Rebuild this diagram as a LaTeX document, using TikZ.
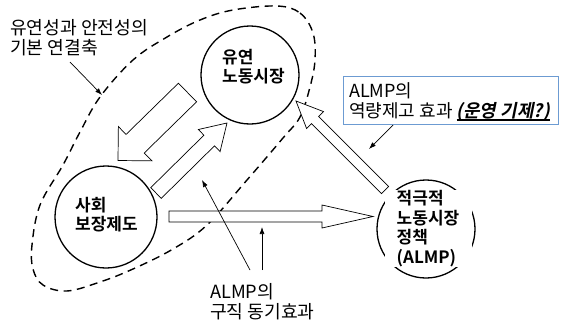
\documentclass[tikz,border=0pt]{standalone}
\usepackage{fontspec}
\setmainfont{Noto Sans CJK KR}[
  BoldFont={Noto Sans CJK KR Bold},
  ItalicFont={Noto Sans CJK KR},
  ItalicFeatures={FakeSlant=0.2},
  BoldItalicFont={Noto Sans CJK KR Bold},
  BoldItalicFeatures={FakeSlant=0.2}]
\usetikzlibrary{calc,arrows.meta}
\definecolor{boxblue}{HTML}{6C9BD2}
\newcommand\myul[1]{\setbox0=\hbox{#1}\copy0\kern-\wd0\rule[-3.5pt]{\wd0}{1.3pt}}
\newcommand\blockarrow[5]{%
  \coordinate (bh) at ($(#2)!#5!(#1)$);
  \draw[blockarr] ($(#1)!#3!90:(#2)$) -- ($(bh)!#3!90:(#2)$) -- ($(bh)!#4!90:(#2)$) -- (#2)
    -- ($(bh)!#4!-90:(#2)$) -- ($(bh)!#3!-90:(#2)$) -- ($(#1)!#3!-90:(#2)$) -- cycle;
}
\begin{document}
\begin{tikzpicture}[x=1pt,y=-1pt,
  circnode/.style={circle, draw, line width=1.3pt, minimum size=#1, inner sep=0pt},
  ctext/.style={font=\bfseries\fontsize{17}{19.5}\selectfont, align=left, inner sep=0pt},
  ntext/.style={font=\fontsize{18.2}{20}\selectfont, align=left, inner sep=0pt},
  blockarr/.style={draw, line width=0.7pt, fill=white, line join=miter},
  pointer/.style={line width=0.7pt, -{Latex[length=7pt,width=5pt]}},
  ell/.style={dash pattern=on 8pt off 5.5pt, line width=1.4pt}]
\useasboundingbox (0,0) rectangle (562,324);

% dashed enclosing curve
\draw[ell] plot[smooth cycle, tension=0.6] coordinates {(277,6) (300,13) (313,33) (315,60) (310,87) (300,117) (283,138) (247,180) (207,225) (173,249) (133,269) (100,282) (67,291) (43,285) (33,269) (32,245) (40,205) (63,165) (80,132) (100,97) (133,60) (167,37) (200,20) (233,10)};

% circles
\node[circnode=98pt] (flex) at (250,75) {};
\node[circnode=102pt] (soc) at (106,217) {};
\node[circnode=98pt] (almp) at (426,229) {};

\node[ctext, anchor=north west] (flextxt) at (222,49) {유연\\노동시장};
\node[ctext, anchor=north west] (soctxt) at (75,197) {사회\\보장제도};
\node[ctext, fill=white, minimum width=87pt, minimum height=75pt] (almptxt) at (428,228.5) {적극적\\노동시장\\정책\\(ALMP)};

% block arrows
\coordinate (a1t) at (187.5,92.5);
\coordinate (a1h) at (118,160.5);
\blockarrow{a1t}{a1h}{13pt}{24pt}{24pt}
\coordinate (a2t) at (156,193);
\coordinate (a2h) at (227,123);
\blockarrow{a2t}{a2h}{7.5pt}{15.5pt}{25pt}
\coordinate (a3t) at (169,216.5);
\coordinate (a3h) at (373,216.5);
\blockarrow{a3t}{a3h}{5.5pt}{11.5pt}{51pt}
\coordinate (a4t) at (385,190);
\coordinate (a4h) at (296,101);
\blockarrow{a4t}{a4h}{5pt}{12pt}{27pt}

% labels
\node[ntext, anchor=north west] (axis) at (10,19) {유연성과 안전성의\\기본 연결축};
\node[draw=boxblue, line width=0.9pt, anchor=north west, minimum width=215pt,
      minimum height=48pt, inner sep=0pt] (box) at (343,76) {};
\node[ntext, font=\fontsize{18}{20}\selectfont, anchor=west] (boxtxt) at ($(box.west)+(6,1)$)
  {ALMP의\\역량제고 효과 \myul{\textbf{\textit{(운영 기제?)}}}};
\node[ntext, anchor=north west] (motiv) at (210,283) {ALMP의\\구직 동기효과};

% pointer arrows
\coordinate (p1s) at (70,62);  \coordinate (p1e) at (102,95);
\draw[pointer] (p1s) -- (p1e);
\coordinate (p2s) at (393,125); \coordinate (p2e) at (369,149);
\draw[pointer] (p2s) -- (p2e);
\coordinate (p3s) at (250,270); \coordinate (p3e) at (202,180);
\draw[pointer] (p3s) -- (p3e);
\coordinate (p4s) at (262,270); \coordinate (p4e) at (262,227);
\draw[pointer] (p4s) -- (p4e);
\end{tikzpicture}
\end{document}
